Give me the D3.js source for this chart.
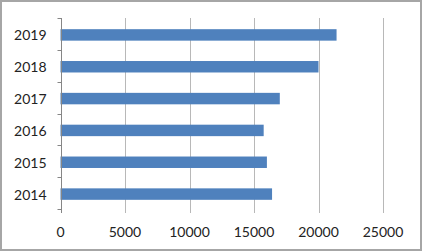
<!DOCTYPE html>
<html>
<head>
<meta charset="utf-8">
<script src="https://cdn.jsdelivr.net/npm/d3@7"></script>
<style>
  body { margin: 0; background: #fff; }
  svg { display: block; }
  text { font-family: Lato, "Open Sans", sans-serif; fill: #222; }
</style>
</head>
<body>
<div id="chart"></div>
<script>
var years = ["2014", "2015", "2016", "2017", "2018", "2019"];
var values = [16400, 16000, 15750, 17000, 20000, 21400];
var xTicks = [0, 5000, 10000, 15000, 20000, 25000];

var width = 423;
var height = 252;
var margin = { top: 18, right: 40, bottom: 43, left: 60.5 };

var svg = d3.select('#chart')
    .append('svg')
    .attr('width', width)
    .attr('height', height);

// outer frame
svg.append('rect')
    .attr('x', 1)
    .attr('y', 1)
    .attr('width', width - 3)
    .attr('height', height - 3)
    .attr('fill', '#fff')
    .attr('stroke', '#a6a6a6')
    .attr('stroke-width', 2);

var x = d3.scaleLinear()
    .domain([0, 25000])
    .range([margin.left, 383]);

var y = d3.scaleBand()
    .domain(years.slice().reverse())
    .range([margin.top, height - margin.bottom])
    .paddingInner(0.64)
    .paddingOuter(0.32);

var data = years.map(function (d, i) {
    return { year: d, value: values[i] };
});

// grid
svg.append('g')
    .selectAll('line')
    .data(xTicks.slice(1))
    .enter()
    .append('line')
    .attr('x1', function (d) { return Math.round(x(d)) + 0.5; })
    .attr('x2', function (d) { return Math.round(x(d)) + 0.5; })
    .attr('y1', margin.top)
    .attr('y2', height - margin.bottom + 4)
    .attr('stroke', '#b8b8b8');

svg.append('g')
    .selectAll('rect')
    .data(data)
    .enter()
    .append('rect')
    .attr('x', x(0))
    .attr('y', function (d) { return y(d.year) + 1; })
    .attr('width', function (d) { return x(d.value) - x(0); })
    .attr('height', y.bandwidth())
    .attr('fill', '#4f81bd');

// y axis
var yAxis = svg.append('g')
    .attr('transform', 'translate(' + (Math.round(x(0)) + 0.5) + ',0)');
yAxis.append('line')
    .attr('y1', margin.top)
    .attr('y2', height - margin.bottom + 4)
    .attr('stroke', '#868686');

var step = y.step();
var bounds = d3.range(years.length + 1).map(function (i) {
    return margin.top + i * (height - margin.top - margin.bottom) / years.length;
});
yAxis.selectAll('.tk')
    .data(bounds)
    .enter()
    .append('line')
    .attr('x1', -4)
    .attr('x2', 0)
    .attr('y1', function (d) { return Math.round(d) + 0.5; })
    .attr('y2', function (d) { return Math.round(d) + 0.5; })
    .attr('stroke', '#868686');

yAxis.selectAll('text')
    .data(years)
    .enter()
    .append('text')
    .attr('x', -15)
    .attr('y', function (d) { return y(d) + y.bandwidth() / 2 + 1; })
    .attr('text-anchor', 'end')
    .attr('dominant-baseline', 'central')
    .style('font-size', '14px')
    .text(function (d) { return d; });

// x axis labels
svg.append('g')
    .selectAll('text')
    .data(xTicks)
    .enter()
    .append('text')
    .attr('x', function (d) { return x(d); })
    .attr('y', 231)
    .attr('text-anchor', 'middle')
    .attr('dominant-baseline', 'central')
    .style('font-size', '14px')
    .text(function (d) { return d; });
</script>
</body>
</html>
